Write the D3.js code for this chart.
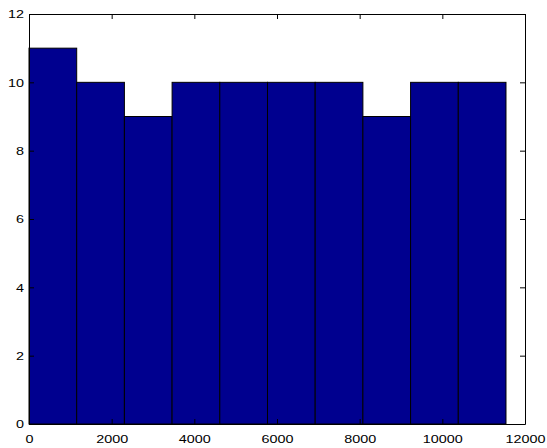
<!DOCTYPE html>
<html>
<head>
<meta charset="utf-8">
<script src="https://cdn.jsdelivr.net/npm/d3@7"></script>
<style>
	html, body { margin: 0; padding: 0; background: #fff; }
	svg text { font-family: "Liberation Sans", Arial, Helvetica, sans-serif; font-size: 11.5px; fill: #000; }
</style>
</head>
<body>
<svg id="chart" width="547" height="448"></svg>
<script>
	/* Data */
	const counts = [11, 10, 9, 10, 10, 10, 10, 9, 10, 10];
	const binRange = [0, 11540];
	const xTicks = [0, 2000, 4000, 6000, 8000, 10000, 12000];
	const yTicks = [0, 2, 4, 6, 8, 10, 12];

	/* Layout */
	const margin = { top: 14, right: 22, bottom: 24, left: 29 };
	const width = 547, height = 448;
	const tickLen = 5;
	const stretch = 1.25; // tick labels are drawn wider than the stock font

	const svg = d3.select("#chart");

	const xScale = d3.scaleLinear()
		.domain([0, 12000])
		.range([margin.left, width - margin.right]);

	const yScale = d3.scaleLinear()
		.domain([0, 12])
		.range([height - margin.bottom, margin.top]);

	const binWidth = (binRange[1] - binRange[0]) / counts.length;
	const bins = counts.map((c, i) => ({
		x0: binRange[0] + i * binWidth,
		x1: binRange[0] + (i + 1) * binWidth,
		count: c
	}));

	// bars
	svg.append("g")
		.selectAll("rect")
		.data(bins)
		.enter()
		.append("rect")
		.attr("x", (d) => xScale(d.x0))
		.attr("y", (d) => yScale(d.count))
		.attr("width", (d) => xScale(d.x1) - xScale(d.x0))
		.attr("height", (d) => yScale(0) - yScale(d.count))
		.attr("fill", "#00008f")
		.attr("stroke", "#000")
		.attr("stroke-width", 1);

	// axes, ticks inward on all four sides (box)
	const fmt = d3.format("d");

	const bottom = svg.append("g")
		.attr("transform", `translate(0,${yScale(0)})`)
		.call(d3.axisBottom(xScale).tickValues(xTicks).tickFormat(fmt)
			.tickSizeInner(-tickLen).tickSizeOuter(0).tickPadding(11));

	bottom.selectAll(".tick text")
		.attr("transform", `scale(${stretch},1)`);

	svg.append("g")
		.attr("transform", `translate(0,${yScale(12)})`)
		.call(d3.axisTop(xScale).tickValues(xTicks).tickSizeInner(-tickLen).tickSizeOuter(0).tickFormat(""));

	const left = svg.append("g")
		.attr("transform", `translate(${xScale(0)},0)`)
		.call(d3.axisLeft(yScale).tickValues(yTicks).tickFormat(fmt)
			.tickSizeInner(-tickLen).tickSizeOuter(0).tickPadding(5));

	left.selectAll(".tick text")
		.attr("x", -5 / stretch)
		.attr("transform", `scale(${stretch},1)`);

	svg.append("g")
		.attr("transform", `translate(${xScale(12000)},0)`)
		.call(d3.axisRight(yScale).tickValues(yTicks).tickSizeInner(-tickLen).tickSizeOuter(0).tickFormat(""));

	svg.selectAll(".domain").attr("stroke", "#000");
	svg.selectAll(".tick line").attr("stroke", "#000");
	svg.selectAll(".tick text")
		.attr("font-family", null)
		.attr("font-size", null);
</script>
</body>
</html>
